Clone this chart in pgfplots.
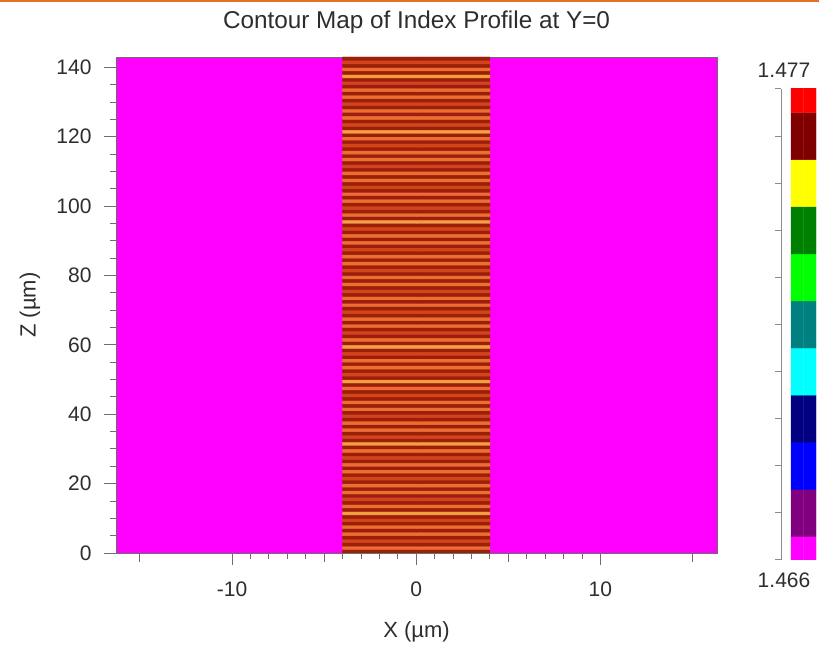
\documentclass[border=0pt]{standalone}
\usepackage{pgfplots}
\pgfplotsset{compat=1.18}
\usepackage{fontspec}
\setmainfont{Liberation Sans}
\definecolor{txt}{RGB}{45,45,45}
\definecolor{frame}{RGB}{110,110,110}
\definecolor{topline}{RGB}{228,112,38}
\definecolor{mag}{RGB}{255,0,255}
\begin{document}
\begin{tikzpicture}
\useasboundingbox (0,0) rectangle (819pt,652pt);
\fill[topline] (0,649.5pt) rectangle (819pt,652pt);
\begin{axis}[
  at={(116pt,99pt)}, anchor=south west,
  scale only axis, width=601pt, height=496pt,
  xmin=-16.3, xmax=16.33, ymin=0, ymax=143,
  axis background/.style={fill=mag},
  xtick={-10,0,10}, ytick={0,20,...,140},
  minor x tick num=9, minor y tick num=3,
  extra x ticks={-15,-5,5,15}, extra x tick labels={},
  extra x tick style={major tick length=9pt},
  tick align=outside, xtick pos=bottom, ytick pos=left,
  major tick length=12pt, minor tick length=6pt,
  axis line style={draw=frame, line width=0.8pt},
  tick style={draw=frame, line width=0.9pt},
  /pgf/number format/assume math mode=true,
  tick label style={font=\fontsize{21}{24}\selectfont, text=txt},
  yticklabel style={xshift=-9pt},
  xticklabel style={yshift=-13pt},
  every axis title shift=0pt,
  title={Contour Map of Index Profile at Y=0},
  title style={at={(axis description cs:0.5,1.071)}, anchor=center, font=\fontsize{24.3}{28}\selectfont, text=txt},
  xlabel={X (µm)},
  xlabel style={at={(axis description cs:0.5,-0.1593)}, anchor=center, font=\fontsize{22}{26}\selectfont, text=txt},
  ylabel={Z (µm)},
  ylabel style={at={(axis description cs:-0.1431,0.5)}, anchor=center, font=\fontsize{22}{26}\selectfont, text=txt},
  colormap={stripes}{rgb255=(155,32,8) rgb255=(212,68,26) rgb255=(238,110,50) rgb255=(244,158,66)},
  colormap access=direct,
]
\addplot[matrix plot*, mesh/cols=2, point meta=explicit] coordinates {
(-2,0.5)[0] (2,0.5)[0] (-2,1.5)[2] (2,1.5)[2] (-2,2.5)[0] (2,2.5)[0] (-2,3.5)[1] (2,3.5)[1]
(-2,4.5)[0] (2,4.5)[0] (-2,5.5)[2] (2,5.5)[2] (-2,6.5)[0] (2,6.5)[0] (-2,7.5)[2] (2,7.5)[2]
(-2,8.5)[0] (2,8.5)[0] (-2,9.5)[1] (2,9.5)[1] (-2,10.5)[0] (2,10.5)[0] (-2,11.5)[3] (2,11.5)[3]
(-2,12.5)[0] (2,12.5)[0] (-2,13.5)[2] (2,13.5)[2] (-2,14.5)[0] (2,14.5)[0] (-2,15.5)[1] (2,15.5)[1]
(-2,16.5)[0] (2,16.5)[0] (-2,17.5)[2] (2,17.5)[2] (-2,18.5)[0] (2,18.5)[0] (-2,19.5)[2] (2,19.5)[2]
(-2,20.5)[0] (2,20.5)[0] (-2,21.5)[1] (2,21.5)[1] (-2,22.5)[0] (2,22.5)[0] (-2,23.5)[2] (2,23.5)[2]
(-2,24.5)[0] (2,24.5)[0] (-2,25.5)[2] (2,25.5)[2] (-2,26.5)[0] (2,26.5)[0] (-2,27.5)[1] (2,27.5)[1]
(-2,28.5)[0] (2,28.5)[0] (-2,29.5)[2] (2,29.5)[2] (-2,30.5)[0] (2,30.5)[0] (-2,31.5)[3] (2,31.5)[3]
(-2,32.5)[0] (2,32.5)[0] (-2,33.5)[1] (2,33.5)[1] (-2,34.5)[0] (2,34.5)[0] (-2,35.5)[2] (2,35.5)[2]
(-2,36.5)[0] (2,36.5)[0] (-2,37.5)[2] (2,37.5)[2] (-2,38.5)[0] (2,38.5)[0] (-2,39.5)[1] (2,39.5)[1]
(-2,40.5)[0] (2,40.5)[0] (-2,41.5)[2] (2,41.5)[2] (-2,42.5)[0] (2,42.5)[0] (-2,43.5)[2] (2,43.5)[2]
(-2,44.5)[0] (2,44.5)[0] (-2,45.5)[1] (2,45.5)[1] (-2,46.5)[0] (2,46.5)[0] (-2,47.5)[2] (2,47.5)[2]
(-2,48.5)[0] (2,48.5)[0] (-2,49.5)[3] (2,49.5)[3] (-2,50.5)[0] (2,50.5)[0] (-2,51.5)[1] (2,51.5)[1]
(-2,52.5)[0] (2,52.5)[0] (-2,53.5)[2] (2,53.5)[2] (-2,54.5)[0] (2,54.5)[0] (-2,55.5)[2] (2,55.5)[2]
(-2,56.5)[0] (2,56.5)[0] (-2,57.5)[1] (2,57.5)[1] (-2,58.5)[0] (2,58.5)[0] (-2,59.5)[3] (2,59.5)[3]
(-2,60.5)[0] (2,60.5)[0] (-2,61.5)[2] (2,61.5)[2] (-2,62.5)[0] (2,62.5)[0] (-2,63.5)[1] (2,63.5)[1]
(-2,64.5)[0] (2,64.5)[0] (-2,65.5)[2] (2,65.5)[2] (-2,66.5)[0] (2,66.5)[0] (-2,67.5)[2] (2,67.5)[2]
(-2,68.5)[0] (2,68.5)[0] (-2,69.5)[1] (2,69.5)[1] (-2,70.5)[0] (2,70.5)[0] (-2,71.5)[2] (2,71.5)[2]
(-2,72.5)[0] (2,72.5)[0] (-2,73.5)[2] (2,73.5)[2] (-2,74.5)[0] (2,74.5)[0] (-2,75.5)[1] (2,75.5)[1]
(-2,76.5)[0] (2,76.5)[0] (-2,77.5)[2] (2,77.5)[2] (-2,78.5)[0] (2,78.5)[0] (-2,79.5)[2] (2,79.5)[2]
(-2,80.5)[0] (2,80.5)[0] (-2,81.5)[1] (2,81.5)[1] (-2,82.5)[0] (2,82.5)[0] (-2,83.5)[2] (2,83.5)[2]
(-2,84.5)[0] (2,84.5)[0] (-2,85.5)[2] (2,85.5)[2] (-2,86.5)[0] (2,86.5)[0] (-2,87.5)[1] (2,87.5)[1]
(-2,88.5)[0] (2,88.5)[0] (-2,89.5)[2] (2,89.5)[2] (-2,90.5)[0] (2,90.5)[0] (-2,91.5)[2] (2,91.5)[2]
(-2,92.5)[0] (2,92.5)[0] (-2,93.5)[1] (2,93.5)[1] (-2,94.5)[0] (2,94.5)[0] (-2,95.5)[3] (2,95.5)[3]
(-2,96.5)[0] (2,96.5)[0] (-2,97.5)[2] (2,97.5)[2] (-2,98.5)[0] (2,98.5)[0] (-2,99.5)[1] (2,99.5)[1]
(-2,100.5)[0] (2,100.5)[0] (-2,101.5)[2] (2,101.5)[2] (-2,102.5)[0] (2,102.5)[0] (-2,103.5)[2] (2,103.5)[2]
(-2,104.5)[0] (2,104.5)[0] (-2,105.5)[1] (2,105.5)[1] (-2,106.5)[0] (2,106.5)[0] (-2,107.5)[2] (2,107.5)[2]
(-2,108.5)[0] (2,108.5)[0] (-2,109.5)[2] (2,109.5)[2] (-2,110.5)[0] (2,110.5)[0] (-2,111.5)[1] (2,111.5)[1]
(-2,112.5)[0] (2,112.5)[0] (-2,113.5)[2] (2,113.5)[2] (-2,114.5)[0] (2,114.5)[0] (-2,115.5)[2] (2,115.5)[2]
(-2,116.5)[0] (2,116.5)[0] (-2,117.5)[1] (2,117.5)[1] (-2,118.5)[0] (2,118.5)[0] (-2,119.5)[2] (2,119.5)[2]
(-2,120.5)[0] (2,120.5)[0] (-2,121.5)[3] (2,121.5)[3] (-2,122.5)[0] (2,122.5)[0] (-2,123.5)[1] (2,123.5)[1]
(-2,124.5)[0] (2,124.5)[0] (-2,125.5)[2] (2,125.5)[2] (-2,126.5)[0] (2,126.5)[0] (-2,127.5)[2] (2,127.5)[2]
(-2,128.5)[0] (2,128.5)[0] (-2,129.5)[1] (2,129.5)[1] (-2,130.5)[0] (2,130.5)[0] (-2,131.5)[2] (2,131.5)[2]
(-2,132.5)[0] (2,132.5)[0] (-2,133.5)[2] (2,133.5)[2] (-2,134.5)[0] (2,134.5)[0] (-2,135.5)[1] (2,135.5)[1]
(-2,136.5)[0] (2,136.5)[0] (-2,137.5)[3] (2,137.5)[3] (-2,138.5)[0] (2,138.5)[0] (-2,139.5)[2] (2,139.5)[2]
(-2,140.5)[0] (2,140.5)[0] (-2,141.5)[1] (2,141.5)[1] (-2,142.5)[0] (2,142.5)[0]
};
\end{axis}
\begin{axis}[
  at={(781pt,92pt)}, anchor=south west,
  scale only axis, width=35pt, height=471pt,
  xmin=0, xmax=35, ymin=0, ymax=10,
  axis x line=none, axis y line*=left,
  ytick={0,...,10}, yticklabels={},
  tick align=outside, major tick length=6pt,
  axis line style={draw=frame!80, line width=1pt},
  tick style={draw=frame!80, line width=1pt},
  clip mode=individual,
  colormap={cb}{rgb255=(255,0,255) rgb255=(128,0,128) rgb255=(0,0,255) rgb255=(0,0,128) rgb255=(0,255,255) rgb255=(0,128,128) rgb255=(0,255,0) rgb255=(0,128,0) rgb255=(255,255,0) rgb255=(128,0,0) rgb255=(255,0,0)},
  colormap access=direct,
]
\addplot[matrix plot*, mesh/cols=2, point meta=explicit] coordinates {
(16.25,0)[0] (28.75,0)[0]
(16.25,1)[1] (28.75,1)[1]
(16.25,2)[2] (28.75,2)[2]
(16.25,3)[3] (28.75,3)[3]
(16.25,4)[4] (28.75,4)[4]
(16.25,5)[5] (28.75,5)[5]
(16.25,6)[6] (28.75,6)[6]
(16.25,7)[7] (28.75,7)[7]
(16.25,8)[8] (28.75,8)[8]
(16.25,9)[9] (28.75,9)[9]
(16.25,10)[10] (28.75,10)[10]
};
\node[font=\fontsize{21}{24}\selectfont, text=txt, anchor=center] at (axis description cs:0.086,1.040) {1.477};
\node[font=\fontsize{21}{24}\selectfont, text=txt, anchor=center] at (axis description cs:0.086,-0.042) {1.466};
\end{axis}
\end{tikzpicture}
\end{document}
